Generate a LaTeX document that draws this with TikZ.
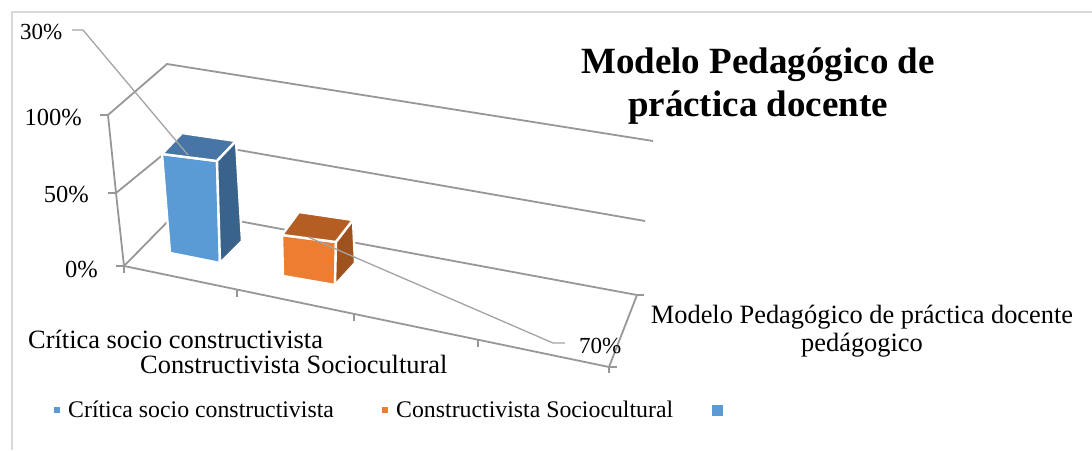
\documentclass[tikz,border=0pt]{standalone}
\usepackage{fontspec}
\setmainfont{Liberation Serif}
\definecolor{axisgray}{HTML}{979797}
\definecolor{leadgray}{HTML}{A3A3A3}
\definecolor{framegray}{HTML}{D9D9D9}
\definecolor{bluefront}{HTML}{5B9BD5}
\definecolor{bluetop}{HTML}{4675A6}
\definecolor{blueside}{HTML}{3A638B}
\definecolor{orangefront}{HTML}{ED7D31}
\definecolor{orangetop}{HTML}{B45E23}
\definecolor{orangeside}{HTML}{9E521E}
\begin{document}
\begin{tikzpicture}[x=1pt,y=-1pt,
  axisline/.style={draw=axisgray, line width=1.8pt},
  ticks/.style={draw=axisgray, line width=1.5pt},
  leader/.style={draw=leadgray, line width=1.3pt},
  face/.style={draw=white, line width=2.4pt, line join=round},
  pct/.style={inner sep=0pt, font=\fontsize{24.5}{28}\selectfont},
  datalab/.style={inner sep=0pt, font=\fontsize{23}{27}\selectfont},
  catlab/.style={inner sep=0pt, font=\fontsize{26.4}{30}\selectfont},
  leglab/.style={inner sep=0pt, font=\fontsize{23.8}{28}\selectfont},
  titlelab/.style={inner sep=0pt, font=\fontsize{37}{43}\selectfont\bfseries}
]
\useasboundingbox (0,0) rectangle (1092,450);
% chart frame
\draw[draw=framegray, line width=1.2pt] (12,450) -- (12,12) -- (1092,12);

% wall corners
\coordinate (fl100) at (108,115);
\coordinate (fl50) at (116,193);
\coordinate (fl0) at (124,266);
\coordinate (bl100) at (167,64);
\coordinate (bl50) at (181,140);
\coordinate (bl0) at (179,210);
\coordinate (br100) at (653,141);
\coordinate (br50) at (645,221);
\coordinate (br0) at (637,295);
\coordinate (fr0) at (609,367);

% walls and gridlines
\draw[axisline] (fl100) -- (bl100) -- (br100);
\draw[axisline] (fl50) -- (bl50) -- (br50);
\draw[axisline] (fl0) -- (bl0) -- (br0);
\draw[axisline] (fl100) -- (fl50) -- (fl0);
\draw[axisline] (fl0) -- (fr0) -- (br0);
% ticks
\draw[ticks] (fl100) -- ++(-8,0);
\draw[ticks] (fl50) -- ++(-8,0);
\draw[ticks] (fl0) -- ++(-8,0);
\draw[ticks] (fl0) -- ++(0,7);
\draw[ticks] (237,289.5) -- ++(0,7);
\draw[ticks] (354,314) -- ++(0,7);
\draw[ticks] (478,340) -- ++(0,7);
\draw[ticks] (fr0) -- ++(0,6);
\draw[ticks] (fr0) -- ++(8,0);
\draw[ticks] (br0) -- ++(7,0);

% blue bar
\coordinate (b1) at (162,154);
\coordinate (b2) at (217,161);
\coordinate (b3) at (220,263);
\coordinate (b4) at (170,253);
\coordinate (b5) at (182,133);
\coordinate (b6) at (236,141);
\coordinate (b7) at (242,241);
\filldraw[face, fill=bluefront] (b1) -- (b2) -- (b3) -- (b4) -- cycle;
\filldraw[face, fill=bluetop] (b1) -- (b5) -- (b6) -- (b2) -- cycle;
\filldraw[face, fill=blueside] (b2) -- (b6) -- (b7) -- (b3) -- cycle;

% orange bar
\coordinate (o1) at (282,235);
\coordinate (o2) at (336,242);
\coordinate (o3) at (335,285);
\coordinate (o4) at (283,276);
\coordinate (o5) at (299,212);
\coordinate (o6) at (353,220);
\coordinate (o7) at (355,263);
\filldraw[face, fill=orangefront] (o1) -- (o2) -- (o3) -- (o4) -- cycle;
\filldraw[face, fill=orangetop] (o1) -- (o5) -- (o6) -- (o2) -- cycle;
\filldraw[face, fill=orangeside] (o2) -- (o6) -- (o7) -- (o3) -- cycle;

% axis labels
\node[pct, anchor=base east] (l100) at (82,125) {100\%};
\node[pct, anchor=base east] (l50) at (89,202) {50\%};
\node[pct, anchor=base east] (l0) at (98,277) {0\%};

% data labels and leaders
\node[datalab, anchor=base west] (d30) at (20,39) {30\%};
\node[datalab, anchor=base west] (d70) at (579,353) {70\%};
\coordinate (t30a) at (72,30);
\coordinate (t30b) at (83,30);
\coordinate (t30c) at (188,155);
\coordinate (t70a) at (308,237);
\coordinate (t70b) at (553,343);
\coordinate (t70c) at (565,343);
\draw[leader] (t30a) -- (t30b) -- (t30c);
\draw[leader] (t70a) -- (t70b) -- (t70c);

% category labels
\node[catlab, anchor=base west] (c1) at (28,348) {Crítica socio constructivista};
\node[catlab, anchor=base west] (c2) at (140,373) {Constructivista Sociocultural};
\node[catlab, anchor=base] (s1) at (862,323) {Modelo Pedagógico de práctica docente};
\node[catlab, anchor=base] (s2) at (862,351) {pedágogico};

% title
\node[titlelab, anchor=base] (t1) at (758,73) {Modelo Pedagógico de};
\node[titlelab, anchor=base] (t2) at (758,116) {práctica docente};

% legend
\fill[bluefront] (54,407) rectangle (60,413);
\node[leglab, anchor=base west] (g1) at (68,417) {Crítica socio constructivista};
\fill[orangefront] (382,407) rectangle (388,413);
\node[leglab, anchor=base west] (g2) at (396,417) {Constructivista Sociocultural};
\fill[bluefront] (712,405) rectangle (723,416);
\end{tikzpicture}
\end{document}
